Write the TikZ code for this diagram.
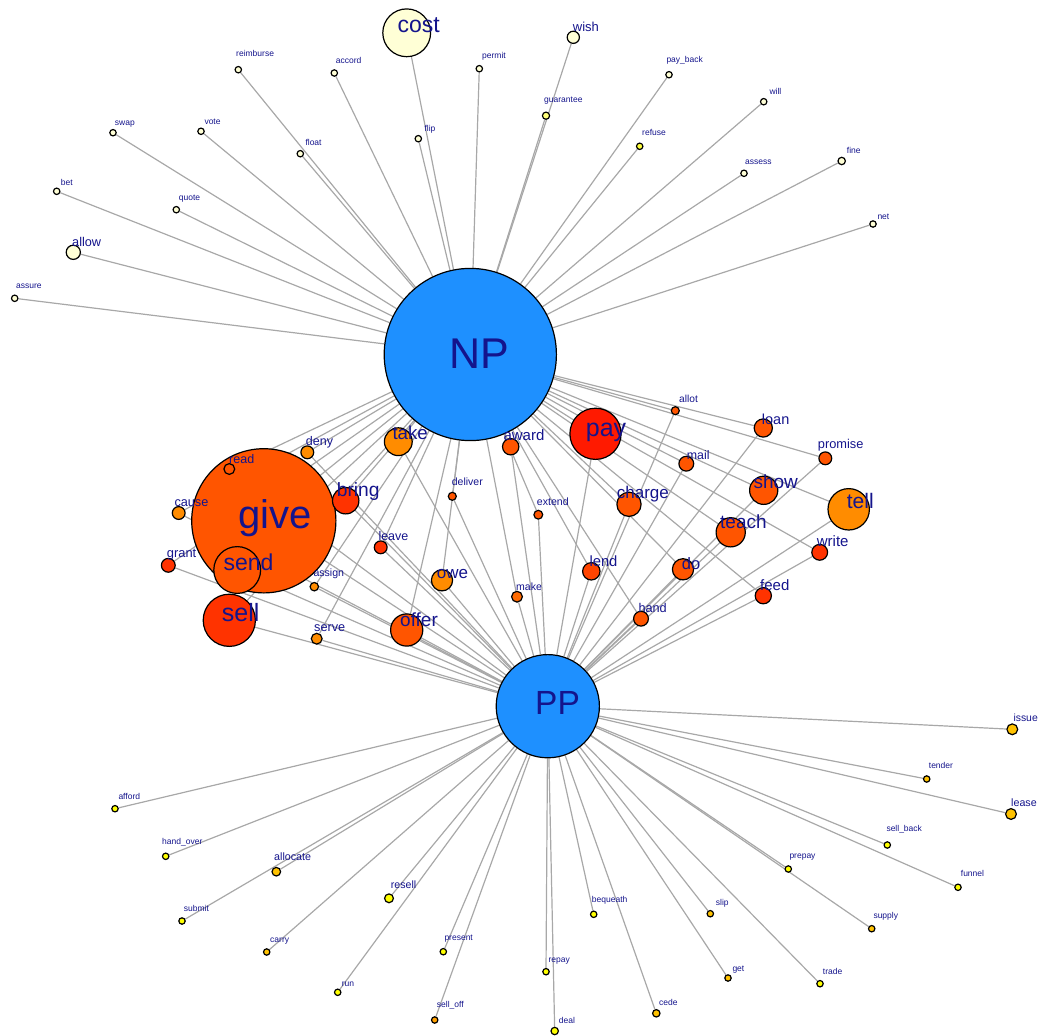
\documentclass[tikz,border=0pt]{standalone}
\usepackage{fontspec}
\setmainfont{Liberation Sans}
\usetikzlibrary{backgrounds}
\definecolor{hubblue}{HTML}{1E90FF}
\definecolor{lblblue}{HTML}{14148C}
\definecolor{linkgray}{HTML}{A8A8A8}
\definecolor{cpale}{HTML}{FFFFD6}
\definecolor{cguar}{HTML}{FFFF7A}
\definecolor{cref}{HTML}{FFFF3C}
\definecolor{cyel}{HTML}{FFFF00}
\definecolor{cgold}{HTML}{FFC200}
\definecolor{corg}{HTML}{FFA000}
\definecolor{cdark}{HTML}{FF8C00}
\definecolor{cmid}{HTML}{FF5500}
\definecolor{cmake}{HTML}{FF6A00}
\definecolor{clend}{HTML}{FF4400}
\definecolor{cred}{HTML}{FF3300}
\definecolor{cpay}{HTML}{FF1A00}
\tikzset{
    vtx/.style={circle, draw, line width=1.2pt, inner sep=0pt},
    vlbl/.style={anchor=base west, inner sep=0pt, text=lblblue},
    link/.style={draw=linkgray, line width=1.2pt}
}
\newcommand{\vnode}[9]{%
  \node[vtx, fill=#5, minimum size={2*#4-1.2}] (#1) at (#2,#3) {};
  \node[vlbl, font={\fontsize{#9}{#9}\selectfont}] (#1-l) at (#7,#8) {#6};}

\begin{document}
\begin{tikzpicture}[x=1pt, y=-1pt]
\useasboundingbox (0,0) rectangle (1039,1036);
\vnode{np}{470.3}{354.5}{86.7}{hubblue}{NP}{449}{368.3}{43}
\vnode{pp}{547.8}{706.2}{52.2}{hubblue}{PP}{535}{714}{33.5}
\vnode{give}{263.8}{520.8}{72.7}{cmid}{give}{238.3}{528.3}{40}
\vnode{sell}{229.3}{620.3}{26.7}{cred}{sell}{221.7}{621.7}{25}
\vnode{pay}{595.5}{433.8}{26.2}{cpay}{pay}{585.7}{436.7}{25}
\vnode{cost}{406.7}{32.8}{24.5}{cpale}{cost}{397.3}{32.3}{23}
\vnode{send}{237.2}{570}{24}{cmid}{send}{223.3}{570}{23}
\vnode{tell}{848.7}{509.3}{21.3}{cdark}{tell}{846.7}{508.3}{21}
\vnode{offer}{406.7}{630}{16.7}{cmid}{offer}{400}{626.7}{19}
\vnode{teach}{730.7}{532.3}{15.2}{cmid}{teach}{720}{528.3}{19}
\vnode{show}{763.7}{490.3}{14.7}{cmid}{show}{753.3}{488.3}{19}
\vnode{take}{398.3}{441.7}{14.5}{cdark}{take}{392.3}{439.3}{18.7}
\vnode{bring}{345.7}{500.7}{13.8}{cred}{bring}{336.7}{496.7}{19.2}
\vnode{charge}{629}{504.3}{12.7}{cmid}{charge}{616.7}{498.3}{17}
\vnode{owe}{442}{580.3}{11.2}{cdark}{owe}{436.7}{578.3}{17}
\vnode{do}{683}{569.3}{11.2}{cmid}{do}{681.7}{569.3}{16.5}
\vnode{loan}{763.3}{428}{9.7}{cmid}{loan}{761.7}{424}{14.5}
\vnode{lend}{591.3}{571.3}{9.3}{clend}{lend}{589.3}{566.7}{14.8}
\vnode{award}{510.7}{446.7}{8.8}{cmid}{award}{503.3}{440.7}{15}
\vnode{feed}{763.3}{595.7}{8.7}{cred}{feed}{760}{590.7}{15}
\vnode{write}{819.7}{552.3}{8.5}{cred}{write}{816.7}{546.7}{15}
\vnode{mail}{686.3}{463.7}{8}{cmid}{mail}{686.7}{459}{12.4}
\vnode{hand}{641}{618.7}{8}{cmid}{hand}{638.3}{612.7}{12.7}
\vnode{allow}{73.3}{252.3}{7.7}{cpale}{allow}{72}{246}{12.7}
\vnode{grant}{168.3}{565.3}{7.5}{cred}{grant}{166.7}{557.7}{12.9}
\vnode{cause}{178.7}{513}{7}{cdark}{cause}{174.3}{506.7}{12.7}
\vnode{deny}{307.3}{452.3}{7}{cdark}{deny}{305.7}{445.7}{12.5}
\vnode{leave}{380.7}{547.3}{7}{cred}{leave}{378.3}{540.7}{12.5}
\vnode{promise}{825.3}{458.3}{7}{cmid}{promise}{817.7}{448.3}{12.8}
\vnode{wish}{573.3}{37.3}{6.7}{cpale}{wish}{572.7}{31.7}{13}
\vnode{read}{229.3}{469}{6}{cmid}{read}{229}{463.3}{12.5}
\vnode{serve}{316.7}{638.7}{6}{cdark}{serve}{314}{631.7}{12.7}
\vnode{make}{517}{596.7}{6}{cmake}{make}{516}{590}{10.5}
\vnode{issue}{1012.3}{729.3}{6}{cgold}{issue}{1013.3}{721}{10.4}
\vnode{lease}{1011}{814}{6}{cgold}{lease}{1011}{806}{10.7}
\vnode{extend}{538.3}{514.7}{5}{cmid}{extend}{536.7}{505.7}{10.6}
\vnode{resell}{389}{898.3}{5}{cyel}{resell}{390.7}{888.7}{10.6}
\vnode{allocate}{276.3}{871.7}{4.9}{cgold}{allocate}{274}{860.7}{10.7}
\vnode{assign}{314.3}{586.7}{4.8}{cdark}{assign}{313.3}{576.7}{10.6}
\vnode{deliver}{452.3}{496.3}{4.6}{cmid}{deliver}{451.7}{485}{10.5}
\vnode{allot}{675.3}{410.7}{4.6}{cmid}{allot}{679}{402.7}{10.2}
\vnode{reimburse}{238.3}{69.7}{3.8}{cpale}{reimburse}{236}{56.7}{8.5}
\vnode{accord}{334.3}{73}{3.8}{cpale}{accord}{335.7}{63.3}{8.5}
\vnode{permit}{479.3}{68.7}{3.8}{cpale}{permit}{482}{58.3}{8.5}
\vnode{payback}{669}{74.7}{3.8}{cpale}{pay\_back}{666.3}{62.7}{8.5}
\vnode{guarantee}{546}{115.7}{4.2}{cguar}{guarantee}{544}{102.3}{8.5}
\vnode{flip}{418.3}{138.7}{3.8}{cpale}{flip}{424.3}{131}{8.5}
\vnode{float}{300.3}{153.7}{3.8}{cpale}{float}{305.3}{145}{8.5}
\vnode{swap}{113}{132.7}{3.8}{cpale}{swap}{114.7}{125.7}{8.5}
\vnode{vote}{201}{131.3}{3.8}{cpale}{vote}{204.3}{124}{8.5}
\vnode{will}{763.7}{101.7}{3.8}{cpale}{will}{769.3}{94.3}{8.5}
\vnode{refuse}{639.7}{146.3}{3.8}{cref}{refuse}{642}{135.7}{8.5}
\vnode{assess}{744}{173.3}{3.8}{cpale}{assess}{745}{164}{8.5}
\vnode{fine}{841.7}{161}{4.3}{cpale}{fine}{846.7}{153.7}{8.5}
\vnode{net}{873}{224}{3.8}{cpale}{net}{877.3}{219}{8.5}
\vnode{bet}{56.7}{191.3}{3.8}{cpale}{bet}{60.7}{185.7}{8.5}
\vnode{quote}{176.3}{209.7}{3.8}{cpale}{quote}{178.7}{200.7}{8.5}
\vnode{assure}{14.7}{298.3}{3.8}{cpale}{assure}{16}{288.7}{8.5}
\vnode{tender}{926.7}{779}{3.8}{cgold}{tender}{928.7}{768.3}{8.5}
\vnode{sellback}{887.3}{845}{3.8}{cyel}{sell\_back}{886.3}{831.7}{8.5}
\vnode{funnel}{958}{887.3}{3.8}{cyel}{funnel}{960.7}{876.7}{8.5}
\vnode{prepay}{788.3}{869}{3.8}{cyel}{prepay}{789.3}{858.3}{8.5}
\vnode{supply}{871.7}{928.7}{3.8}{cgold}{supply}{873.3}{918.3}{8.5}
\vnode{slip}{710.3}{913.7}{3.8}{cgold}{slip}{715.7}{905}{8.5}
\vnode{bequeath}{593.7}{914.3}{3.8}{cyel}{bequeath}{591.7}{902.7}{8.5}
\vnode{get}{728}{978}{3.8}{cgold}{get}{732.3}{971}{8.5}
\vnode{trade}{820}{983.7}{3.8}{cyel}{trade}{822.7}{974.7}{8.5}
\vnode{cede}{656.3}{1013.3}{4.3}{cgold}{cede}{659}{1005.3}{8.5}
\vnode{deal}{554.7}{1031}{4.3}{cyel}{deal}{558.7}{1023.3}{8.5}
\vnode{repay}{546}{971.7}{3.8}{cyel}{repay}{548.3}{962.3}{8.5}
\vnode{selloff}{434.7}{1020}{3.8}{corg}{sell\_off}{436.7}{1007.7}{8.5}
\vnode{present}{443.3}{951.7}{3.8}{cyel}{present}{444.3}{940.7}{8.5}
\vnode{run}{337.7}{992.3}{3.8}{cyel}{run}{341.7}{986}{8.5}
\vnode{carry}{266.7}{952}{3.8}{cgold}{carry}{270}{942.7}{8.5}
\vnode{submit}{182}{921}{3.8}{cyel}{submit}{183.7}{911}{8.5}
\vnode{handover}{165.7}{856.3}{3.8}{cyel}{hand\_over}{162}{844}{8.5}
\vnode{afford}{115}{808.7}{3.8}{cyel}{afford}{118.3}{799}{8.5}
\begin{scope}[on background layer]
\foreach \nm in {cost,wish,allow,reimburse,accord,permit,payback,guarantee,flip,float,swap,vote,will,refuse,assess,fine,net,bet,quote,assure}
    \draw[link] (np) -- (\nm);
\foreach \nm in {give,sell,pay,send,tell,offer,teach,show,take,bring,charge,owe,do,loan,lend,award,feed,write,mail,hand,grant,cause,deny,leave,promise,read,serve,make,extend,assign,deliver,allot}
    {\draw[link] (np) -- (\nm); \draw[link] (pp) -- (\nm);}
\foreach \nm in {issue,lease,resell,allocate,tender,sellback,funnel,prepay,supply,slip,bequeath,get,trade,cede,deal,repay,selloff,present,run,carry,submit,handover,afford}
    \draw[link] (pp) -- (\nm);
\end{scope}
\end{tikzpicture}
\end{document}
